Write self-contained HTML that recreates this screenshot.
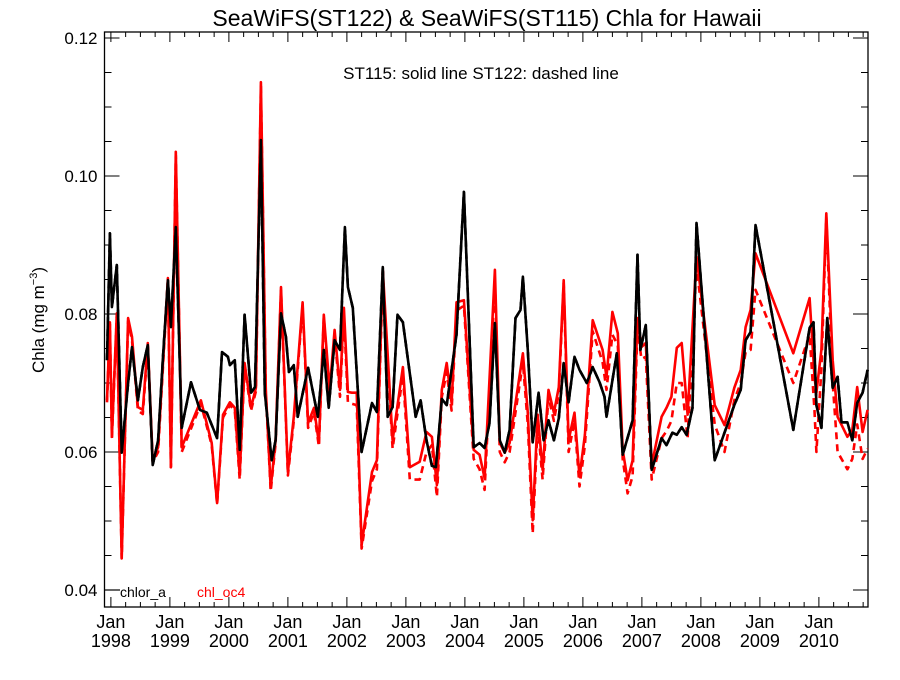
<!DOCTYPE html>
<html><head><meta charset="utf-8"><style>
body{margin:0;background:#fff}
svg text{font-family:"Liberation Sans",Arial,sans-serif}
</style></head><body>
<svg id="chart" width="900" height="675" xmlns="http://www.w3.org/2000/svg">
<rect width="900" height="675" fill="#fff"/>
<text x="487" y="26" font-size="23" text-anchor="middle">SeaWiFS(ST122) &amp; SeaWiFS(ST115)  Chla for Hawaii</text>
<text x="481" y="79" font-size="17" text-anchor="middle">ST115: solid line   ST122: dashed line</text>
<text transform="translate(44,320) rotate(-90)" font-size="17" text-anchor="middle">Chla (mg m<tspan font-size="11" dy="-7">−3</tspan><tspan dy="7">)</tspan></text>
<g id="axes"></g>
<g id="series"></g>
<g>
<line x1="105" y1="590" x2="120" y2="590" stroke="#000" stroke-width="1.2"/>
<text x="120" y="597" font-size="14" fill="#000">chlor_a</text>
<text x="197" y="597" font-size="14" fill="#f00">chl_oc4</text>
</g>
</svg>
<script>
const yTicks=[0.04,0.06,0.08,0.10,0.12];
const yTickLabels=["0.04","0.06","0.08","0.10","0.12"];
const years=["1998","1999","2000","2001","2002","2003","2004","2005","2006","2007","2008","2009","2010"];
// months since Jan 1998 (approx)
const blackT=[0.0,0.6,1.0,2.0,3.0,4.3,5.1,6.3,7.3,8.3,9.3,10.4,11.4,12.4,13.0,14.0,15.2,17.1,18.9,20.3,22.4,23.4,24.6,25.0,26.0,27.0,28.0,29.3,30.1,31.3,32.1,33.5,34.3,35.4,36.4,37.0,38.0,38.8,40.9,42.9,44.1,45.1,46.3,47.4,48.4,49.0,50.0,51.8,53.9,54.9,56.1,57.1,58.1,59.1,60.2,61.6,62.8,63.8,65.0,66.1,66.9,68.1,69.1,71.1,72.6,74.6,75.8,76.8,77.8,78.9,79.9,80.9,81.9,83.1,84.1,84.6,85.6,86.6,87.8,88.8,89.8,90.9,91.9,92.9,93.9,95.1,96.1,97.6,98.8,100.2,101.2,101.6,103.7,104.9,106.9,107.9,108.5,109.6,110.8,112.8,113.8,115.0,115.9,116.9,117.9,119.1,119.9,123.6,127.6,128.9,129.9,130.9,131.9,139.6,142.9,143.7,144.3,145.3,146.5,147.6,148.6,149.4,150.6,151.6,152.6,153.7,154.7];
const blackSolid=[.0733,.0917,.0810,.0871,.0599,.0700,.0752,.0675,.0723,.0755,.0581,.0617,.0738,.0849,.0781,.0926,.0635,.0701,.0661,.0657,.0620,.0745,.0738,.0726,.0733,.0603,.0799,.0686,.0694,.1052,.0686,.0588,.0617,.0801,.0767,.0716,.0726,.0651,.0722,.0651,.0748,.0664,.0762,.0748,.0926,.0839,.0809,.0600,.0671,.0658,.0868,.0651,.0665,.0799,.0788,.0714,.0651,.0675,.0617,.0580,.0578,.0677,.0668,.0770,.0977,.0607,.0613,.0606,.0642,.0787,.0617,.0599,.0632,.0794,.0806,.0854,.0748,.0614,.0686,.0617,.0646,.0617,.0649,.0729,.0672,.0738,.0719,.0700,.0723,.0701,.0680,.0651,.0743,.0596,.0646,.0886,.0748,.0784,.0574,.0620,.0610,.0628,.0625,.0636,.0625,.0664,.0932,.0588,.0668,.0690,.0762,.0774,.0929,.0632,.0780,.0788,.0668,.0635,.0794,.0693,.0709,.0643,.0643,.0617,.0671,.0686,.0719];
const blackDashed=blackSolid.slice();
const redT=[0.0,0.6,1.0,2.0,3.0,4.3,5.1,6.3,7.3,8.3,9.3,10.4,12.4,13.0,14.0,15.2,19.1,21.3,22.4,23.6,25.0,26.0,27.0,28.0,29.3,30.3,31.3,32.3,33.3,34.3,35.4,36.8,38.0,39.8,40.9,42.1,43.1,44.1,45.3,46.3,47.4,48.2,49.0,49.8,50.8,51.8,53.9,54.9,56.1,58.1,60.2,61.6,63.6,65.0,66.1,67.1,68.1,69.1,70.1,71.1,72.6,74.6,75.8,76.8,78.9,79.9,80.9,81.9,84.6,85.6,86.6,87.6,88.6,89.8,90.9,91.9,92.9,93.9,95.1,96.1,97.2,98.8,100.8,101.6,102.8,103.9,104.9,105.9,106.9,107.9,108.7,109.6,110.8,112.8,113.8,114.8,115.9,116.9,118.1,119.9,123.6,125.6,127.6,128.9,129.9,130.9,131.9,139.6,142.9,143.9,144.3,145.3,146.3,147.6,148.6,150.6,151.6,152.6,153.7,154.7];
const redSolid=[.0675,.0788,.0622,.0801,.0446,.0794,.0767,.0665,.0661,.0758,.0588,.0607,.0852,.0578,.1035,.0607,.0675,.0613,.0526,.0654,.0672,.0664,.0567,.0729,.0664,.0693,.1136,.0690,.0548,.0617,.0839,.0571,.0651,.0817,.0642,.0664,.0613,.0799,.0690,.0777,.0690,.0809,.0687,.0686,.0686,.0465,.0571,.0588,.0864,.0617,.0723,.0578,.0586,.0629,.0622,.0552,.0690,.0729,.0671,.0817,.0820,.0603,.0596,.0562,.0864,.0613,.0599,.0613,.0743,.0657,.0501,.0654,.0574,.0690,.0657,.0694,.0849,.0617,.0657,.0564,.0625,.0791,.0748,.0709,.0803,.0772,.0603,.0559,.0588,.0794,.0752,.0758,.0581,.0651,.0664,.0680,.0751,.0758,.0654,.0883,.0668,.0639,.0693,.0719,.0781,.0806,.0888,.0743,.0823,.0709,.0686,.0748,.0946,.0733,.0651,.0622,.0632,.0694,.0629,.0661];
const redDashed=[.0672,.0785,.0620,.0798,.0446,.0790,.0762,.0660,.0655,.0752,.0585,.0600,.0848,.0578,.1030,.0600,.0670,.0610,.0524,.0650,.0668,.0660,.0560,.0725,.0660,.0688,.1130,.0686,.0543,.0612,.0835,.0566,.0645,.0812,.0635,.0658,.0608,.0795,.0682,.0770,.0680,.0800,.0672,.0670,.0668,.0460,.0558,.0575,.0855,.0605,.0712,.0560,.0560,.0600,.0610,.0535,.0680,.0716,.0660,.0805,.0812,.0590,.0575,.0545,.0850,.0600,.0585,.0600,.0730,.0640,.0482,.0640,.0560,.0680,.0645,.0685,.0845,.0600,.0645,.0550,.0610,.0775,.0730,.0690,.0770,.0755,.0590,.0540,.0565,.0780,.0735,.0738,.0560,.0620,.0630,.0645,.0700,.0700,.0620,.0870,.0640,.0600,.0675,.0700,.0745,.0748,.0835,.0700,.0770,.0660,.0600,.0720,.0940,.0700,.0600,.0575,.0590,.0640,.0590,.0605];

const L=104.5,R=868,T=32,B=607;
const pxPerMonth=59/12;
function xs(m){return L+(m+0.5)*pxPerMonth;}
function ys(v){return 590-(v-0.04)*6900;}
const NS="http://www.w3.org/2000/svg";
const axes=document.getElementById('axes'),ser=document.getElementById('series');
function mk(tag,attrs,parent){const e=document.createElementNS(NS,tag);for(const k in attrs)e.setAttribute(k,attrs[k]);parent.appendChild(e);return e;}
const frame=mk('rect',{x:L,y:T,width:R-L,height:B-T,fill:'none',stroke:'#000','stroke-width':1.3},axes);


// y minor ticks
for(let v=0.04;v<=0.1201;v+=0.005){
  const y=ys(v);const major=Math.abs((v*100)%2)<0.01||Math.abs((v*100)%2-2)<0.01;
  const len=major?15:7;
  const t1=mk('line',{x1:L,y1:y,x2:L+len,y2:y,stroke:'#000','stroke-width':1},axes);
  
  
  const t2=mk('line',{x1:R,y1:y,x2:R-len,y2:y,stroke:'#000','stroke-width':1},axes);
  
  
}
yTicks.forEach((v,i)=>{
  const t=mk('text',{x:L-7,y:ys(v)+6,'font-size':17,'text-anchor':'end'},axes);
  t.textContent=yTickLabels[i];
  
  
});
// x ticks (quarterly minor, yearly major)
for(let q=0;q<13*4;q++){
  const m=0.8+q*3;const x=xs(m);if(x>R)break;
  const len=(q%4===0)?10:5;
  const a=mk('line',{x1:x,y1:B,x2:x,y2:B-len,stroke:'#000','stroke-width':1},axes);
  
  
  const b=mk('line',{x1:x,y1:T,x2:x,y2:T+len,stroke:'#000','stroke-width':1},axes);
  
  
}
years.forEach((yr,i)=>{
  const x=xs(0.8+i*12);
  const a=mk('text',{x:x,y:628,'font-size':18,'text-anchor':'middle'},axes);
  a.textContent='Jan';
  
  
  const b=mk('text',{x:x,y:647,'font-size':18,'text-anchor':'middle'},axes);
  b.textContent=yr;
  
  
});
function line(ts,vs,color,dash,name){
  const d=ts.map((t,i)=>(i?'L':'M')+xs(t).toFixed(1)+','+ys(vs[i]).toFixed(1)).join('');
  const p=mk('path',{d:d,fill:'none',stroke:color,'stroke-width':2.6,'stroke-linejoin':'round'},ser);
  if(dash)p.setAttribute('stroke-dasharray','7,5');
  
  
}
line(redT,redDashed,'#f00',true,'st122-chl-oc4-line');
line(blackT,blackDashed,'#000',true,'st122-chlor-a-line');
line(redT,redSolid,'#f00',false,'st115-chl-oc4-line');
line(blackT,blackSolid,'#000',false,'st115-chlor-a-line');
</script>
</body></html>
